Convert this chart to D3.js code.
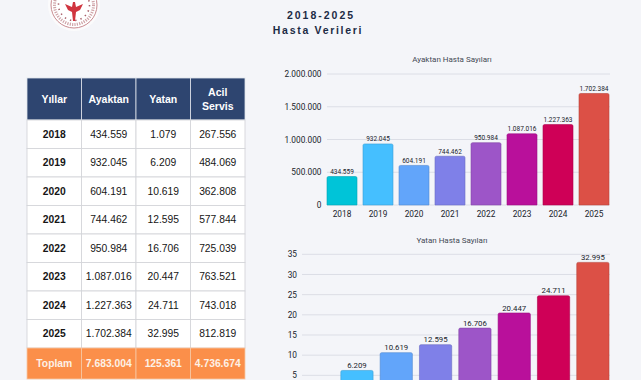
<!DOCTYPE html>
<html><head><meta charset="utf-8">
<script src="https://cdn.jsdelivr.net/npm/d3@7"></script>
<style>html,body{margin:0;padding:0;background:#f4f5f9;overflow:hidden}svg{display:block}</style>
</head><body><svg id="c" width="641" height="380"></svg>
<script>
const years=["2018","2019","2020","2021","2022","2023","2024","2025"];
const ayaktan=[434559,932045,604191,744462,950984,1087016,1227363,1702384];
const yatan=[1079,6209,10619,12595,16706,20447,24711,32995];
const acil=[267556,484069,362808,577844,725039,763521,743018,812819];
const totals=["7.683.004","125.361","4.736.674"];
const headers=[["Yıllar"],["Ayaktan"],["Yatan"],["Acil","Servis"]];
const barColors=["#00c4d8","#45bfff","#62a5fa","#7f80e8","#9d55c8","#b9109b","#cf0057","#dc5046"];
const ayaktanTicks=[0,500000,1000000,1500000,2000000];
const yatanTicks=[5000,10000,15000,20000,25000,30000,35000];

const fmt=v=>String(v).replace(/\B(?=(\d{3})+$)/g,".");
const svg=d3.select("#c");
const tf="'Liberation Sans',Arial,sans-serif", cf="Roboto,'Open Sans',sans-serif";

// logo
const logo=svg.append("g").attr("transform","translate(74,5)");
logo.append("circle").attr("r",26).attr("fill","#fbfbfc");
logo.append("circle").attr("r",23).attr("fill","#fff").attr("stroke","#c98b90").attr("stroke-width",1);
logo.append("circle").attr("r",19.5).attr("fill","none").attr("stroke","#cfa4a8").attr("stroke-width",3).attr("stroke-dasharray","1.2 1.2");
logo.append("circle").attr("r",15.5).attr("fill","none").attr("stroke","#a8606a").attr("stroke-width",1.6).attr("stroke-dasharray","1.4 4");
logo.append("path").attr("d","M-9,-1 L-2,2 L-1,-3 L1,-3 L2,2 L9,-1 L6,5 L2,7 L1,16 L-1,16 L-2,7 L-6,5 Z").attr("fill","#d0353f");

// title
svg.append("text").attr("x",321).attr("y",19).attr("text-anchor","middle").attr("font-family",tf).attr("font-weight",700).attr("font-size",10.5).attr("letter-spacing",2).attr("fill","#1c2b45").text("2018-2025");
svg.append("text").attr("x",318).attr("y",34).attr("text-anchor","middle").attr("font-family",tf).attr("font-weight",700).attr("font-size",10.5).attr("letter-spacing",1.7).attr("fill","#1c2b45").text("Hasta Verileri");

// table
const colX=d3.scalePoint().domain(d3.range(5)).range([27,245]);
const rowY=d3.scalePoint().domain(d3.range(9)).range([120,348]);
const tbl=svg.append("g").attr("font-family",tf);
const cw=colX(1)-colX(0);
const rows=years.map((y,i)=>[y,fmt(ayaktan[i]),fmt(yatan[i]),fmt(acil[i])]);
tbl.selectAll(".hd").data(headers).join("rect").attr("x",(d,i)=>colX(i)).attr("y",78).attr("width",cw).attr("height",42).attr("fill","#2e4570").attr("stroke","#dfe3ea").attr("stroke-width",.8);
headers.forEach((h,i)=>h.forEach((t,j)=>tbl.append("text").attr("x",colX(i)+cw/2).attr("y",99+(j-(h.length-1)/2)*13.5+3.8).attr("text-anchor","middle").attr("font-weight",700).attr("font-size",10.5).attr("fill","#fff").text(t)));
rows.forEach((r,ri)=>r.forEach((t,ci)=>{
  const y=rowY(ri),h=rowY(ri+1)-y;
  tbl.append("rect").attr("x",colX(ci)).attr("y",y).attr("width",cw).attr("height",h).attr("fill","#fff").attr("stroke","#d4d6da").attr("stroke-width",.9);
  tbl.append("text").attr("x",colX(ci)+cw/2).attr("y",y+h/2+3.7).attr("text-anchor","middle").attr("font-weight",ci?400:700).attr("font-size",10.3).attr("fill","#151515").text(t);
}));
["Toplam",...totals].forEach((t,ci)=>{
  tbl.append("rect").attr("x",colX(ci)).attr("y",348).attr("width",cw).attr("height",31).attr("fill","#fb8f4a").attr("stroke","#f7c7a5").attr("stroke-width",.8);
  tbl.append("text").attr("x",colX(ci)+cw/2).attr("y",366.5).attr("text-anchor","middle").attr("font-weight",700).attr("font-size",10.3).attr("fill","#fdf1e6").text(t);
});

function chart(o){
  const g=svg.append("g").attr("font-family",cf);
  const x=d3.scaleBand().domain(years).range([o.x0,o.x1]).paddingInner(o.pad).paddingOuter(0);
  const y=d3.scaleLinear().domain([0,o.max]).range([o.y0,o.yTop]);
  const tv=o.ticks;
  g.selectAll(".gl").data(tv).join("line").attr("x1",o.gridStart).attr("x2",o.gridEnd).attr("y1",d=>y(d)).attr("y2",d=>y(d)).attr("stroke","#dcdee6").attr("stroke-width",1);
  const yAxis=d3.axisLeft(y).tickValues(tv).tickSize(0).tickPadding(0).tickFormat(o.tickFmt);
  const ya=g.append("g").attr("transform",`translate(${o.labelX},0)`).call(yAxis);
  ya.select(".domain").remove();
  ya.selectAll("text").attr("font-family",cf).attr("font-size",8.3).attr("fill","#20232b");
  g.selectAll(".b").data(o.values).join("path")
    .attr("d",(d,i)=>{const a=x(years[i]),w=x.bandwidth(),t=y(d),b=y(0),r=1.5;return `M${a},${b}V${t+r}Q${a},${t} ${a+r},${t}H${a+w-r}Q${a+w},${t} ${a+w},${t+r}V${b}Z`;})
    .attr("fill",(d,i)=>barColors[i]).attr("stroke",(d,i)=>d3.color(barColors[i]).darker(.5)).attr("stroke-width",.6);
  // the lower chart runs past the photographed area: only labels that fall inside are drawn
  const vis=o.values.map((d,i)=>({d,i})).filter(e=>y(e.d)-2.5<380);
  g.selectAll(".l").data(vis).join("text").attr("x",e=>x(years[e.i])+x.bandwidth()/2).attr("y",e=>y(e.d)-2.5).attr("text-anchor","middle").attr("font-size",o.labSize).attr("fill","#20232b").text(e=>fmt(e.d));
  if(o.y0<380){
    const xa=g.append("g").attr("transform",`translate(0,${o.y0})`).call(d3.axisBottom(x).tickSize(0).tickPadding(6));
    xa.select(".domain").remove();
    xa.selectAll("text").attr("font-family",cf).attr("font-size",8.3).attr("fill","#20232b");
  }
  g.append("text").attr("x",o.titleX).attr("y",o.titleY).attr("text-anchor","middle").attr("font-size",8).attr("fill","#454a55").text(o.title);
}
chart({values:ayaktan,max:2000000,ticks:ayaktanTicks,x0:327,x1:609,gridStart:327,gridEnd:610,pad:.167,y0:205,yTop:74,labelX:321.5,tickFmt:fmt,labSize:6.5,title:"Ayaktan Hasta Sayıları",titleX:452,titleY:62});
chart({values:yatan,max:35000,ticks:yatanTicks,x0:301.5,x1:609,gridStart:302,gridEnd:610,pad:.18,y0:395.5,yTop:254.3,labelX:297,tickFmt:d=>d/1000,labSize:7.8,title:"Yatan Hasta Sayıları",titleX:452,titleY:243});
</script></body></html>
